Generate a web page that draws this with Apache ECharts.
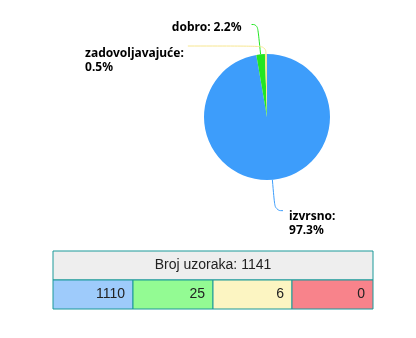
<!DOCTYPE html>
<html><head><meta charset="utf-8">
<script src="https://cdn.jsdelivr.net/npm/echarts@6/dist/echarts.min.js"></script>
<style>html,body{margin:0;padding:0;background:#fff}#c{width:416px;height:338px}</style>
</head><body><div id="c"></div>
<script>
const categories = ['izvrsno', 'dobro', 'zadovoljavajuće', 'nezadovoljavajuće'];
const counts = [1110, 25, 6, 0];
const sliceColors = ['#3d9dfb', '#22e622', '#f7e690', '#f8838b'];
const cellColors = ['#9ecbfb', '#93fb93', '#fcf5c2', '#f8838b'];
const headerLabel = 'Broj uzoraka';

const total = counts.reduce((a, b) => a + b, 0);
const chart = echarts.init(document.getElementById('c'), null, {renderer: 'canvas'});

// per-slice label styling (leader segment lengths, gaps, vertical nudges)
const leaderLen = [31, 30, 8];
const leaderLen2 = [8, 6, 78];
const labelGap = [6, 10, 4];
const labelNudge = [26, 6, 30];
const wrapLabel = [true, false, true];

const pieData = categories.map((n, i) => ({
  name: n, value: counts[i], itemStyle: {color: sliceColors[i]},
  labelLine: {length: leaderLen[i], length2: leaderLen2[i]},
  label: {
    distanceToLabelLine: labelGap[i],
    rich: {
      sp: {height: labelNudge[i], lineHeight: labelNudge[i]},
      t: {fontFamily: '"Noto Sans", "Open Sans", sans-serif', fontWeight: 'bold', fontSize: 12, color: '#000', lineHeight: 14, align: 'left'}
    },
    formatter: p => '{sp|}\n{t|' + p.name + ':}' + (wrapLabel[i] ? '\n{t|' : '{t| ') + p.percent.toFixed(1) + '%}'
  }
})).filter(d => d.value > 0);

// table graphics
const tx = 53, ty = 251, tw = 320, hh = 29, rh = 29;
const colW = [80, 80, 79, 81];
const g = [];
g.push({type: 'rect', shape: {x: tx, y: ty, width: tw, height: hh}, style: {fill: '#eeeeee', stroke: '#1a9999', lineWidth: 1}});
g.push({type: 'text', x: tx + tw / 2, y: ty + hh / 2, style: {text: headerLabel + ': ' + total, fill: '#222', font: '14px "Liberation Sans", Arial, sans-serif', textAlign: 'center', textVerticalAlign: 'middle'}});
let cx = tx;
counts.forEach((v, i) => {
  g.push({type: 'rect', shape: {x: cx, y: ty + hh, width: colW[i], height: rh}, style: {fill: cellColors[i], stroke: '#1a9999', lineWidth: 1}});
  g.push({type: 'text', x: cx + colW[i] - 8, y: ty + hh + rh / 2, style: {text: String(v), fill: '#222', font: '14px "Liberation Sans", Arial, sans-serif', textAlign: 'right', textVerticalAlign: 'middle'}});
  cx += colW[i];
});

chart.setOption({
  animation: false,
  series: [{
    type: 'pie',
    center: [267, 117],
    radius: 63,
    startAngle: 90,
    clockwise: true,
    percentPrecision: 1,
    minShowLabelAngle: 0,
    avoidLabelOverlap: false,
    labelLayout: {hideOverlap: false},
    label: {
      show: true,
      position: 'outside',
      fontFamily: '"Noto Sans", "Open Sans", sans-serif',
      fontWeight: 'bold',
      fontSize: 12,
      color: '#000',
      lineHeight: 14
    },
    labelLine: {show: true, smooth: 0.5, lineStyle: {width: 1}},
    data: pieData
  }],
  graphic: g
});
</script></body></html>
